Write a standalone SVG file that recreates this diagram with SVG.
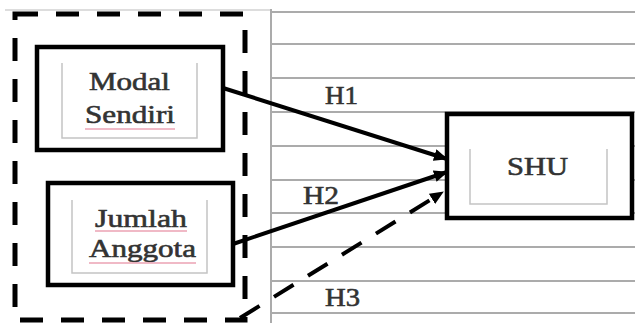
<svg xmlns="http://www.w3.org/2000/svg" width="635" height="323" viewBox="0 0 635 323">
<style>
.grid{stroke:#ababab;stroke-width:2;fill:none}
.box{fill:#fff;stroke:#000;stroke-width:4.5}
.inner{fill:none;stroke:#c4c4c4;stroke-width:1.5}
.txt{font-family:"Liberation Serif","Times New Roman",serif;font-size:26px;fill:#333;stroke:#333;stroke-width:0.6}
.sq{stroke:#eba3b4;stroke-width:1.5;fill:none}
.conn{stroke:#000;stroke-width:4;fill:none}
</style>
<defs>
<marker id="ah" markerUnits="userSpaceOnUse" markerWidth="14" markerHeight="12" refX="13" refY="6" orient="auto">
<path d="M0,0 L14,6 L0,12 Z" fill="#000"/>
</marker>
</defs>
<rect width="635" height="323" fill="#fff"/>
<g id="grid">
<line class="grid" x1="5" y1="10" x2="271" y2="10" stroke-opacity="0.4"/>
<line class="grid" x1="271" y1="9" x2="271" y2="323"/>
<line class="grid" x1="271" y1="12" x2="635" y2="12"/>
<line class="grid" x1="271" y1="44" x2="635" y2="44"/>
<line class="grid" x1="271" y1="78" x2="635" y2="78"/>
<line class="grid" x1="271" y1="112" x2="635" y2="112"/>
<line class="grid" x1="271" y1="146" x2="635" y2="146"/>
<line class="grid" x1="271" y1="180" x2="635" y2="180"/>
<line class="grid" x1="271" y1="213" x2="635" y2="213"/>
<line class="grid" x1="271" y1="247" x2="635" y2="247"/>
<line class="grid" x1="271" y1="281" x2="635" y2="281"/>
<line class="grid" x1="271" y1="313" x2="635" y2="313"/>
</g>
<g id="group-box">
<rect x="15" y="14" width="230" height="306" fill="none" stroke="#000" stroke-width="5" stroke-dasharray="23 18"/>
</g>
<g id="connectors">
<line class="conn" x1="223" y1="88" x2="447" y2="159" marker-end="url(#ah)"/>
<line class="conn" x1="233" y1="244" x2="447" y2="172" marker-end="url(#ah)"/>
<line class="conn" x1="240" y1="318" x2="443" y2="192" stroke-dasharray="23 17" marker-end="url(#ah)"/>
</g>
<g id="node-modal">
<rect class="box" x="37" y="47" width="186" height="103"/>
<path class="inner" d="M62,63 V138 H197 V63"/>
<text class="txt" x="129.5" y="90" text-anchor="middle" textLength="81" lengthAdjust="spacingAndGlyphs">Modal</text>
<text class="txt" x="130" y="123" text-anchor="middle" textLength="90" lengthAdjust="spacingAndGlyphs">Sendiri</text>
<path class="sq" d="M85,129 H175"/>
</g>
<g id="node-jumlah">
<rect class="box" x="48" y="183" width="185" height="102"/>
<path class="inner" d="M72,200 V273 H207 V200"/>
<text class="txt" x="141" y="227" text-anchor="middle" textLength="92" lengthAdjust="spacingAndGlyphs">Jumlah</text>
<text class="txt" x="142.5" y="257" text-anchor="middle" textLength="107" lengthAdjust="spacingAndGlyphs">Anggota</text>
<path class="sq" d="M95,231 H187 M89,263 H196"/>
</g>
<g id="node-shu">
<rect class="box" x="447" y="114" width="185" height="104"/>
<path class="inner" d="M470,149 V204 H607 V149"/>
<text class="txt" x="537.5" y="175" text-anchor="middle" textLength="61" lengthAdjust="spacingAndGlyphs">SHU</text>
</g>
<g id="labels">
<text class="txt" x="325" y="104" textLength="33" lengthAdjust="spacingAndGlyphs">H1</text>
<text class="txt" x="303" y="204" textLength="36" lengthAdjust="spacingAndGlyphs">H2</text>
<text class="txt" x="325" y="306" textLength="35" lengthAdjust="spacingAndGlyphs">H3</text>
</g>
</svg>
